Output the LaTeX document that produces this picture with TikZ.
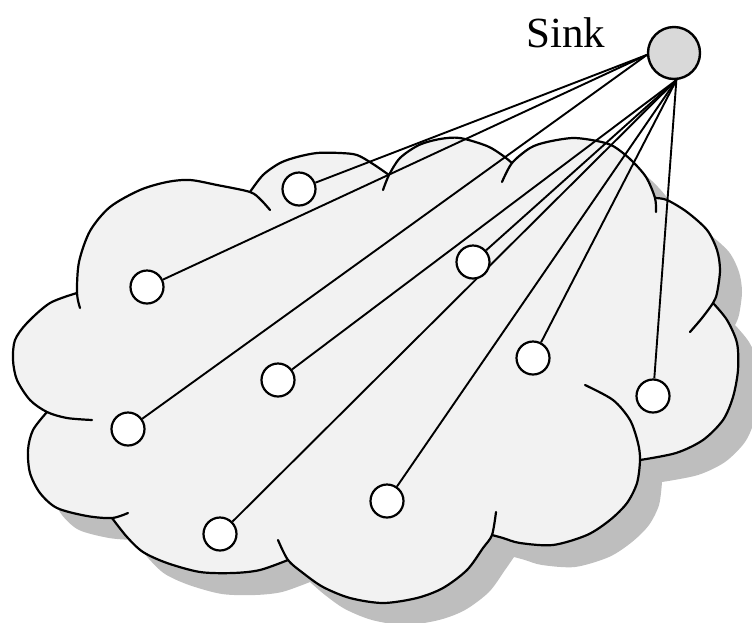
\documentclass[tikz,border=0pt]{standalone}
\usepackage{fontspec}
\setmainfont{Liberation Serif}
\definecolor{cloudfill}{RGB}{242,242,242}
\definecolor{cloudshadow}{RGB}{190,190,190}
\definecolor{sinkgray}{RGB}{217,217,217}
\pgfdeclarelayer{cloudlayer}
\pgfdeclarelayer{linklayer}
\pgfsetlayers{cloudlayer,linklayer,main}
\begin{document}
\begin{tikzpicture}[x=1pt,y=-1pt,
  sensor/.style={circle,draw=black,line width=2.2pt,fill=white,minimum size=33pt,inner sep=0pt},
  sinknode/.style={circle,draw=black,line width=2.4pt,fill=sinkgray,minimum size=52pt,inner sep=0pt},
  link/.style={draw=black,line width=1.9pt},
  rim/.style={draw=black,line width=2.2pt,line cap=round,line join=round},
  label/.style={inner sep=0pt,font=\fontsize{43}{51}\selectfont}]
\useasboundingbox (0,0) rectangle (752,622);

\begin{pgfonlayer}{cloudlayer}
% drop shadow of the cloud
\begin{scope}[shift={(22,22)}]
\fill[cloudshadow]
  plot[smooth] coordinates {(77,293) (79,262) (90,231) (110,207) (140,190) (167,182) (190,180) (217,185) (250,192)}
  -- plot[smooth] coordinates {(250,192) (263,175) (280,163) (297,157) (317,153) (340,153) (357,155) (373,164) (389,175)}
  -- plot[smooth] coordinates {(389,175) (400,158) (419,145) (440,139) (460,138) (487,146) (502,155) (512,163)}
  -- plot[smooth] coordinates {(512,163) (530,148) (547,142) (573,138) (597,141) (613,146) (630,159) (646,177) (655,198)}
  -- plot[smooth] coordinates {(655,198) (667,200) (687,212) (707,230) (717,250) (720,270) (717,293) (713,303)}
  -- plot[smooth] coordinates {(713,303) (727,320) (737,343) (738,370) (733,397) (723,420) (703,440) (676,453) (640,460)}
  -- plot[smooth] coordinates {(640,460) (637,483) (627,503) (610,520) (587,535) (553,545) (520,543) (503,538) (492,535)}
  -- plot[smooth] coordinates {(492,535) (483,548) (467,570) (443,588) (417,598) (383,603) (350,598) (323,587) (303,573) (288,560)}
  -- plot[smooth] coordinates {(288,560) (260,570) (233,573) (200,572) (167,563) (143,552) (127,537) (112,518)}
  -- plot[smooth] coordinates {(112,518) (87,516) (57,508) (40,493) (30,473) (28,450) (33,430) (47,412)}
  -- plot[smooth] coordinates {(47,412) (30,400) (17,380) (13,360) (15,340) (27,323) (50,303) (77,293)}
  -- cycle;
\end{scope}

% cloud body
\fill[cloudfill]
  plot[smooth] coordinates {(77,293) (79,262) (90,231) (110,207) (140,190) (167,182) (190,180) (217,185) (250,192)}
  -- plot[smooth] coordinates {(250,192) (263,175) (280,163) (297,157) (317,153) (340,153) (357,155) (373,164) (389,175)}
  -- plot[smooth] coordinates {(389,175) (400,158) (419,145) (440,139) (460,138) (487,146) (502,155) (512,163)}
  -- plot[smooth] coordinates {(512,163) (530,148) (547,142) (573,138) (597,141) (613,146) (630,159) (646,177) (655,198)}
  -- plot[smooth] coordinates {(655,198) (667,200) (687,212) (707,230) (717,250) (720,270) (717,293) (713,303)}
  -- plot[smooth] coordinates {(713,303) (727,320) (737,343) (738,370) (733,397) (723,420) (703,440) (676,453) (640,460)}
  -- plot[smooth] coordinates {(640,460) (637,483) (627,503) (610,520) (587,535) (553,545) (520,543) (503,538) (492,535)}
  -- plot[smooth] coordinates {(492,535) (483,548) (467,570) (443,588) (417,598) (383,603) (350,598) (323,587) (303,573) (288,560)}
  -- plot[smooth] coordinates {(288,560) (260,570) (233,573) (200,572) (167,563) (143,552) (127,537) (112,518)}
  -- plot[smooth] coordinates {(112,518) (87,516) (57,508) (40,493) (30,473) (28,450) (33,430) (47,412)}
  -- plot[smooth] coordinates {(47,412) (30,400) (17,380) (13,360) (15,340) (27,323) (50,303) (77,293)}
  -- cycle;

% cloud lobes, each arc running a little past its joint
\draw[rim] plot[smooth] coordinates {(80,308) (77,293) (79,262) (90,231) (110,207) (140,190) (167,182) (190,180) (217,185) (250,192) (261,200) (270,210)};
\draw[rim] plot[smooth] coordinates {(250,192) (263,175) (280,163) (297,157) (317,153) (340,153) (357,155) (373,164) (389,175)};
\draw[rim] plot[smooth] coordinates {(383,190) (389,175) (400,158) (419,145) (440,139) (460,138) (487,146) (502,155) (512,163)};
\draw[rim] plot[smooth] coordinates {(502,182) (512,163) (530,148) (547,142) (573,138) (597,141) (613,146) (630,159) (646,177) (655,198) (656,212)};
\draw[rim] plot[smooth] coordinates {(655,198) (667,200) (687,212) (707,230) (717,250) (720,270) (717,293) (713,303) (702,318) (690,332)};
\draw[rim] plot[smooth] coordinates {(713,303) (727,320) (737,343) (738,370) (733,397) (723,420) (703,440) (676,453) (640,460)};
\draw[rim] plot[smooth] coordinates {(585,385) (613,400) (630,420) (638,443) (640,460) (637,483) (627,503) (610,520) (587,535) (553,545) (520,543) (503,538) (492,535)};
\draw[rim] plot[smooth] coordinates {(496,512) (492,535) (483,548) (467,570) (443,588) (417,598) (383,603) (350,598) (323,587) (303,573) (288,560) (278,540)};
\draw[rim] plot[smooth] coordinates {(288,560) (260,570) (233,573) (200,572) (167,563) (143,552) (127,537) (112,518)};
\draw[rim] plot[smooth] coordinates {(128,513) (112,518) (87,516) (57,508) (40,493) (30,473) (28,450) (33,430) (47,412)};
\draw[rim] plot[smooth] coordinates {(92,420) (67,418) (47,412) (30,400) (17,380) (13,360) (15,340) (27,323) (50,303) (77,293)};
\end{pgfonlayer}

% sink and sensor nodes
\node[sinknode] (sink) at (674,53) {};
\node[label,anchor=base west] (sinklabel) at (526,47) {Sink};
\node[sensor] (n1) at (299,189) {};
\node[sensor] (n2) at (147,287) {};
\node[sensor] (n3) at (473,262) {};
\node[sensor] (n4) at (533,358) {};
\node[sensor] (n5) at (278,380) {};
\node[sensor] (n6) at (653,396) {};
\node[sensor] (n7) at (128,429) {};
\node[sensor] (n8) at (387,501) {};
\node[sensor] (n9) at (220,534) {};

% single-hop links: the upper ones leave the sink on its left, the rest from below
\begin{pgfonlayer}{linklayer}
\foreach \n in {n1,n2,n7}
  \draw[link] (sink.184) -- (\n);
\foreach \n in {n3,n4,n5,n6,n8,n9}
  \draw[link] (sink.275) -- (\n);
\end{pgfonlayer}
\end{tikzpicture}
\end{document}
